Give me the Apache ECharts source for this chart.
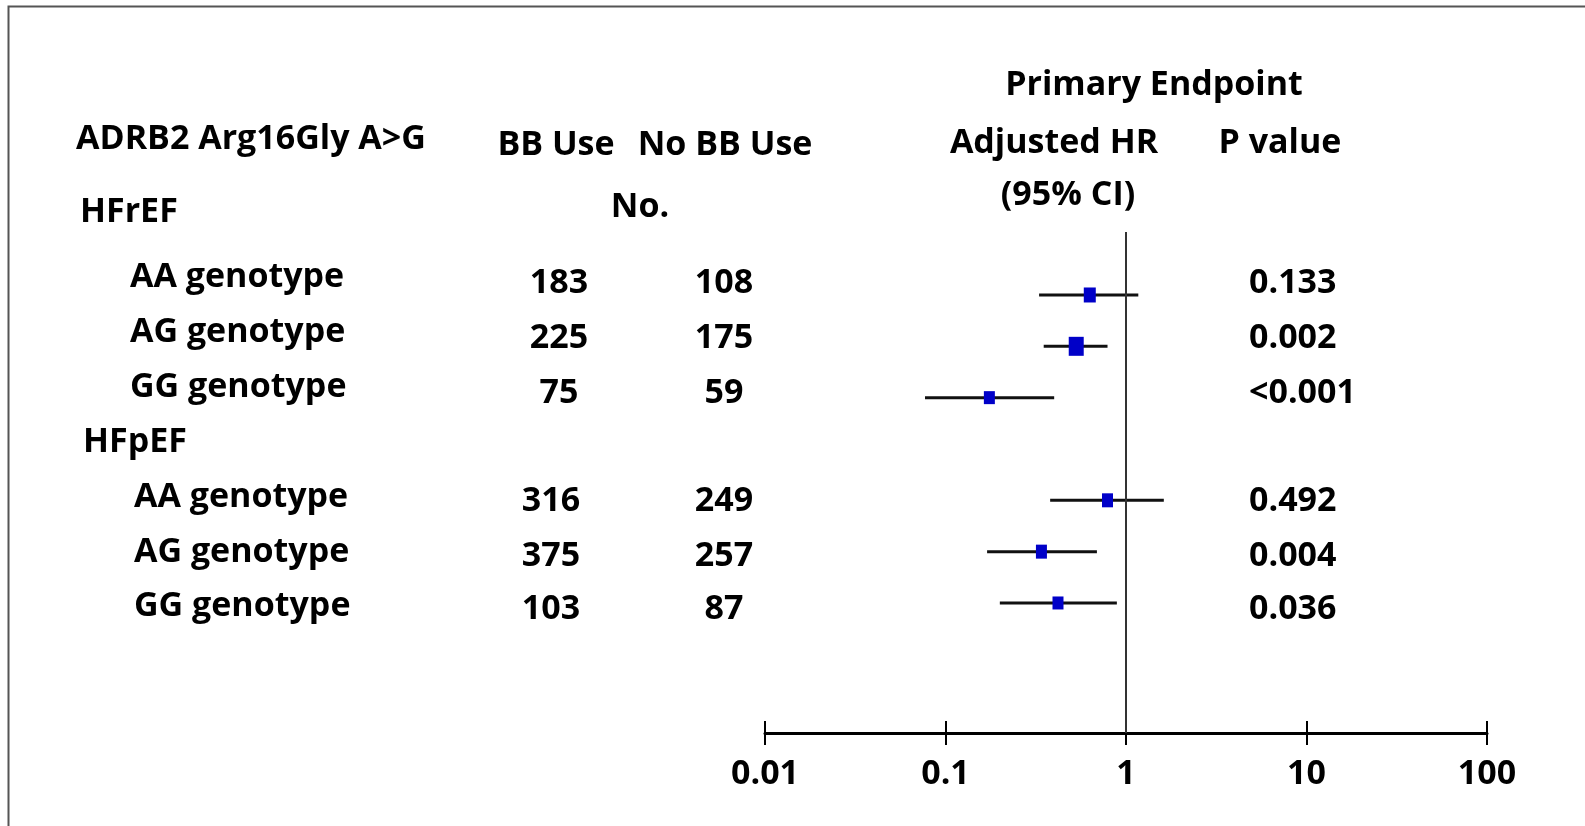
<!DOCTYPE html>
<html>
<head>
<meta charset="utf-8">
<script src="https://cdn.jsdelivr.net/npm/echarts@6/dist/echarts.min.js"></script>
<style>
  html, body { margin: 0; padding: 0; background: #fff; }
  #chart { width: 1585px; height: 826px; }
</style>
</head>
<body>
<div id="chart"></div>
<script>
// forest plot data
const groups = ['HFrEF', 'HFpEF']
const genotypes = ['AA genotype', 'AG genotype', 'GG genotype', 'AA genotype', 'AG genotype', 'GG genotype']
const bbUse = [183, 225, 75, 316, 375, 103]
const noBbUse = [108, 175, 59, 249, 257, 87]
const hr = [0.63, 0.53, 0.175, 0.79, 0.34, 0.42]
const ciLow = [0.33, 0.35, 0.077, 0.38, 0.17, 0.20]
const ciHigh = [1.17, 0.79, 0.40, 1.62, 0.69, 0.89]
const pValues = ['0.133', '0.002', '<0.001', '0.492', '0.004', '0.036']
const rowIndex = [0, 1, 2, 4, 5, 6]
const xTicks = [0.01, 0.1, 1, 10, 100]

// layout (cap-centre y of each text line)
const FONT = 'bold 34px "Open Sans"'
const labelY = [275.8, 330.8, 385.8, 495.8, 550.8, 604.8]
const numY = [281.7, 336.7, 391.7, 499.5, 554, 607.5]
const labelX = [130, 130, 130, 134, 134, 134]
const bbX = [559, 559, 559, 551, 551, 551]
const boxSize = [[12, 15], [15, 19], [11, 13], [11, 14], [11, 14], [11, 13]]

function txt(text, x, y, align) {
  return {
    type: 'text',
    x: x,
    y: y + 2,
    silent: true,
    style: {
      text: text,
      font: FONT,
      fill: '#000',
      align: align || 'left',
      verticalAlign: 'middle'
    }
  }
}

let graphics = [
  {
    type: 'rect',
    silent: true,
    shape: { x: 8.5, y: 6.5, width: 1700, height: 900 },
    style: { fill: 'none', stroke: '#555', lineWidth: 2 }
  },
  txt('Primary Endpoint', 1154, 83, 'center'),
  txt('ADRB2 Arg16Gly A>G', 76, 137.5),
  txt('BB Use', 556, 143.3, 'center'),
  txt('No BB Use', 725, 143.3, 'center'),
  txt('Adjusted HR', 1054, 141.7, 'center'),
  txt('P value', 1280, 141.7, 'center'),
  txt('(95% CI)', 1068, 193, 'center'),
  txt('No.', 640, 205.8, 'center'),
  txt(groups[0], 80, 210.8),
  txt(groups[1], 83, 440.8)
]
for (let i = 0; i < genotypes.length; i++) {
  graphics.push(txt(genotypes[i], labelX[i], labelY[i]))
  graphics.push(txt(String(bbUse[i]), bbX[i], numY[i], 'center'))
  graphics.push(txt(String(noBbUse[i]), 724, numY[i], 'center'))
  graphics.push(txt(pValues[i], 1249, numY[i]))
}

let chart = echarts.init(document.getElementById('chart'))
chart.setOption({
  animation: false,
  grid: {
    left: 765,
    right: 98,
    top: 232,
    bottom: 93
  },
  xAxis: [
    {
      type: 'log',
      logBase: 10,
      min: xTicks[0],
      max: xTicks[xTicks.length - 1],
      axisLine: { onZero: false, lineStyle: { color: '#000', width: 3 } },
      axisTick: { show: true, inside: false, length: 12, lineStyle: { color: '#000', width: 2 } },
      axisLabel: {
        margin: 24,
        color: '#000',
        fontSize: 34,
        fontWeight: 'bold',
        fontFamily: 'Open Sans',
        formatter: v => String(v)
      },
      splitLine: { show: false },
      minorTick: { show: false }
    },
    {
      // second copy only for the upward half of the ticks
      type: 'log',
      logBase: 10,
      min: xTicks[0],
      max: xTicks[xTicks.length - 1],
      position: 'bottom',
      axisLine: { show: false, onZero: false },
      axisTick: { show: true, inside: true, length: 12, lineStyle: { color: '#000', width: 2 } },
      axisLabel: { show: false },
      splitLine: { show: false }
    }
  ],
  yAxis: {
    type: 'value',
    inverse: true,
    min: -1.227,
    max: 8.533,
    show: false
  },
  graphic: graphics,
  series: [
    {
      type: 'custom',
      renderItem: (params, api) => {
        let p1 = api.coord([api.value(0), api.value(2)])
        let p2 = api.coord([api.value(1), api.value(2)])
        return {
          type: 'line',
          shape: { x1: p1[0], y1: p1[1], x2: p2[0], y2: p2[1] },
          style: { stroke: '#111', lineWidth: 3 }
        }
      },
      encode: { x: [0, 1], y: 2 },
      data: ciLow.map((lo, i) => [lo, ciHigh[i], rowIndex[i]]),
      z: 2
    },
    {
      type: 'scatter',
      symbol: 'rect',
      itemStyle: { color: '#0000c8', opacity: 1 },
      data: hr.map((v, i) => ({ value: [v, rowIndex[i]], symbolSize: boxSize[i] })),
      markLine: {
        silent: true,
        symbol: 'none',
        label: { show: false },
        lineStyle: { color: '#333', width: 2, type: 'solid' },
        data: [{ xAxis: 1 }]
      },
      z: 3
    }
  ]
})
</script>
</body>
</html>
